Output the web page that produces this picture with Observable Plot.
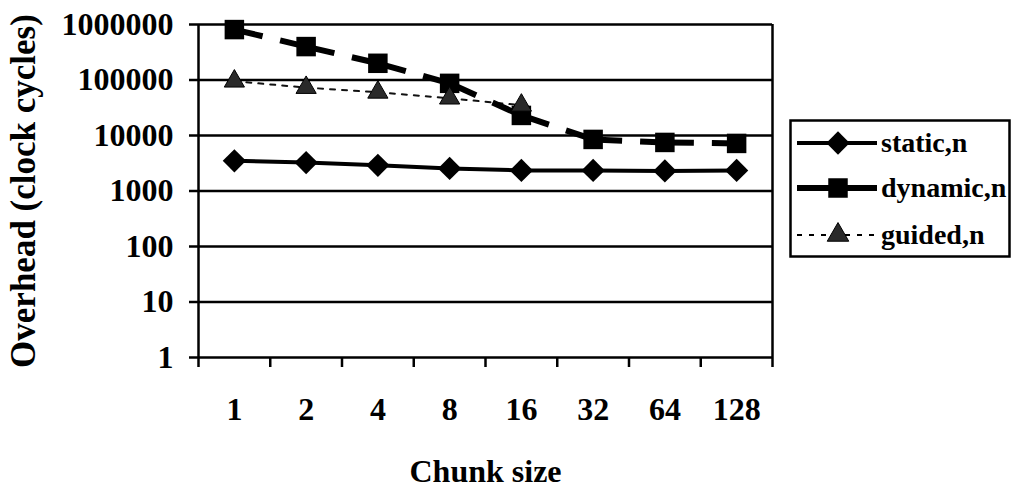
<!DOCTYPE html>
<html>
<head>
<meta charset="utf-8">
<script src="https://cdn.jsdelivr.net/npm/d3@7"></script>
<script src="https://cdn.jsdelivr.net/npm/@observablehq/plot@0.6"></script>
<style>
  html, body { margin: 0; padding: 0; background: white; }
  #wrap { position: relative; width: 1011px; height: 489px; font-family: 'Liberation Serif', 'Times New Roman', serif; }
  #legend { position: absolute; left: 789px; top: 119px; }
</style>
</head>
<body>
<div id="wrap"></div>
<script>
const categories = ["1", "2", "4", "8", "16", "32", "64", "128"];
const staticVals  = [3500, 3250, 2900, 2550, 2350, 2350, 2300, 2350];
const dynamicVals = [810000, 400000, 200000, 87000, 23000, 8500, 7500, 7200];
const guidedVals  = [95000, 73000, 60000, 47000, 35000];
const yTicks = [1, 10, 100, 1000, 10000, 100000, 1000000];
const seriesNames = ["static,n", "dynamic,n", "guided,n"];

const toRows = (vals, name) => vals.map((v, i) => ({pos: i + 0.5, cat: categories[i], value: v, series: name}));
const staticRows = toRows(staticVals, seriesNames[0]);
const dynamicRows = toRows(dynamicVals, seriesNames[1]);
const guidedRows = toRows(guidedVals, seriesNames[2]);
const dynamicSegs = dynamicRows.slice(1).map((d, i) => ({x1: dynamicRows[i].pos, y1: dynamicRows[i].value, x2: d.pos, y2: d.value}));

const boundaries = d3.range(0, categories.length + 1);
const centers = categories.map((c, i) => i + 0.5);

const chart = Plot.plot({
  width: 1011,
  height: 489,
  marginLeft: 198,
  marginRight: 239,
  marginTop: 24,
  marginBottom: 132,
  style: {fontFamily: "'Liberation Serif', 'Times New Roman', serif", fontWeight: "bold", fontSize: "32px", color: "black", background: "white"},
  x: {type: "linear", domain: [0, categories.length]},
  y: {type: "log", domain: [1, 1000000]},
  marks: [
    Plot.ruleY(yTicks, {stroke: "black", strokeWidth: 2.5}),
    Plot.ruleX([0, categories.length], {stroke: "black", strokeWidth: 2.5}),
    Plot.axisY({ticks: yTicks, tickFormat: d => String(d), tickSize: 9, tickPadding: 16, strokeWidth: 2.5, label: null}),
    Plot.axisY({ticks: [], label: "Overhead (clock cycles)", labelAnchor: "center", labelArrow: "none", labelOffset: 188, fontSize: 35}),
    Plot.axisX({ticks: boundaries, tickSize: 10, strokeWidth: 2.5, tickFormat: () => "", label: null}),
    Plot.axisX({ticks: centers, tickSize: 0, tickPadding: 40, tickFormat: v => categories[Math.floor(v)], label: "Chunk size", labelAnchor: "center", labelArrow: "none", labelOffset: 124}),
    Plot.line(guidedRows, {x: "pos", y: "value", stroke: "#111", strokeWidth: 2, strokeDasharray: "5,7"}),
    Plot.line(staticRows, {x: "pos", y: "value", stroke: "black", strokeWidth: 4}),
    Plot.link(dynamicSegs, {x1: "x1", y1: "y1", x2: "x2", y2: "y2", stroke: "black", strokeWidth: 6, strokeDasharray: "29,18"}),
    Plot.dot(staticRows, {x: "pos", y: "value", symbol: "diamond2", r: 10.5, fill: "black"}),
    Plot.dot(dynamicRows, {x: "pos", y: "value", symbol: "square", r: 11, fill: "black"}),
    Plot.dot(guidedRows, {x: "pos", y: "value", symbol: "triangle", r: 7.5, fill: "#2a2a2a", stroke: "black", strokeWidth: 1})
  ]
});
document.getElementById("wrap").appendChild(chart);

// Legend
const lw = 222, lh = 139;
const legendRows = [
  {name: seriesNames[0], y: 24, kind: "static"},
  {name: seriesNames[1], y: 69, kind: "dynamic"},
  {name: seriesNames[2], y: 116, kind: "guided"}
];
const lsvg = d3.create("svg").attr("id", "legend").attr("width", lw).attr("height", lh);
lsvg.append("rect").attr("x", 1.5).attr("y", 1.5).attr("width", lw - 3).attr("height", lh - 3)
  .attr("fill", "white").attr("stroke", "black").attr("stroke-width", 2.5);
const g = lsvg.selectAll("g").data(legendRows).join("g").attr("transform", d => `translate(0,${d.y})`);
g.append("line").attr("x1", 8).attr("x2", 88).attr("y1", 0).attr("y2", 0)
  .attr("stroke", "black")
  .attr("stroke-width", d => d.kind === "static" ? 4 : d.kind === "dynamic" ? 6 : 2)
  .attr("stroke-dasharray", d => d.kind === "guided" ? "5,7" : null);
g.append("path").attr("transform", "translate(49,0)")
  .attr("d", d => d3.symbol(d.kind === "static" ? d3.symbolDiamond2 : d.kind === "dynamic" ? d3.symbolSquare : d3.symbolTriangle,
      d.kind === "static" ? Math.PI * 110 : d.kind === "dynamic" ? Math.PI * 121 : Math.PI * 64)())
  .attr("fill", d => d.kind === "guided" ? "#2a2a2a" : "black")
  .attr("stroke", "black").attr("stroke-width", d => d.kind === "guided" ? 1 : 0);
g.append("text").attr("x", 92).attr("y", 0).attr("dy", "0.32em")
  .attr("font-family", "'Liberation Serif', 'Times New Roman', serif")
  .attr("font-weight", "bold").attr("font-size", 28).attr("fill", "black")
  .text(d => d.name);
document.getElementById("wrap").appendChild(lsvg.node());
</script>
</body>
</html>
